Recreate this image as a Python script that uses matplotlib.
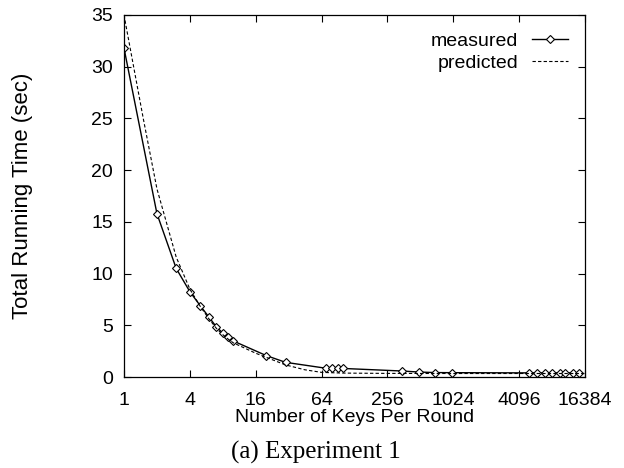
import matplotlib
matplotlib.use("Agg")
import matplotlib.pyplot as plt

plt.rcParams['font.family'] = ['Liberation Sans', 'DejaVu Sans']

# measured running time (sec) vs number of keys per round
keys_measured = [1, 2, 3, 4, 5, 6, 7, 8, 9, 10, 20, 30, 70, 80, 90, 100,
                 350, 500, 700, 1000,
                 5000, 6000, 7000, 8200, 9600, 10800, 12600, 14400]
time_measured = [31.8, 15.8, 10.5, 8.25, 6.87, 5.77, 4.84, 4.25, 3.84, 3.48, 2.07, 1.42, 0.85, 0.84, 0.84, 0.83,
                 0.58, 0.48, 0.43, 0.42,
                 0.40, 0.40, 0.40, 0.40, 0.40, 0.40, 0.40, 0.40]

# predicted running time
keys_predicted = [1, 1.5, 2, 3, 4, 5, 6, 7, 8, 9, 10, 16, 20, 30, 45, 64, 100, 256, 1024, 4096, 16384]
time_predicted = [35.0, 25.0, 18.2, 11.6, 8.5, 6.8, 5.6, 4.7, 4.1, 3.65, 3.3, 2.3, 1.9, 1.17, 0.7, 0.45, 0.38, 0.35, 0.34, 0.34, 0.34]

x_ticks = [1, 4, 16, 64, 256, 1024, 4096, 16384]
y_ticks = [0, 5, 10, 15, 20, 25, 30, 35]

fig = plt.figure(figsize=(6.24, 4.68), dpi=100)
ax = fig.add_axes([0.1987, 0.1944, 0.7388, 0.7736])

ax.plot(keys_measured, time_measured, '-', color='black', lw=1.0,
        marker='D', ms=3.6, mfc='white', mec='black', mew=0.8, label='measured')
ax.plot(keys_predicted, time_predicted, color='black', lw=0.8,
        dashes=(3, 2), label='predicted')

ax.set_xscale('log', base=2)
ax.set_xlim(1, 16384)
ax.set_ylim(0, 35)
ax.set_xticks(x_ticks)
ax.set_xticklabels([str(t) for t in x_ticks])
ax.set_yticks(y_ticks)
ax.minorticks_off()
ax.tick_params(direction='in', length=5, width=0.8, top=True, right=True,
               labelsize=14)
ax.tick_params(axis='x', pad=10.5)
ax.tick_params(axis='y', pad=8)
for s in ax.spines.values():
    s.set_linewidth(0.9)

ax.set_xlabel('Number of Keys Per Round', fontsize=14)
ax.xaxis.set_label_coords(0.5, -0.088)
ax.set_ylabel('Total Running Time (sec)', fontsize=16)
ax.yaxis.set_label_coords(-0.197, 0.5)

ax.legend(loc='upper right', bbox_to_anchor=(0.963, 0.953), frameon=False,
          markerfirst=False, fontsize=14, handlelength=1.85, handletextpad=0.72,
          labelspacing=0.25, borderpad=0, borderaxespad=0)

fig.text(0.506, 0.0192, '(a) Experiment 1', ha='center', va='baseline',
         fontsize=18, family=['Liberation Serif', 'DejaVu Serif'])

fig.savefig('out.png', dpi=100)
